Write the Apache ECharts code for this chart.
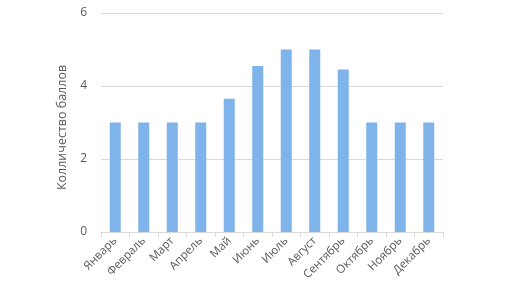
<!DOCTYPE html>
<html><head><meta charset="utf-8">
<script src="https://cdn.jsdelivr.net/npm/echarts@6/dist/echarts.min.js"></script>
<style>html,body{margin:0;padding:0;background:#fff}#c{width:526px;height:293px}</style>
</head><body><div id="c"></div>
<script>
const categories = ["Январь","Февраль","Март","Апрель","Май","Июнь","Июль","Август","Сентябрь","Октябрь","Ноябрь","Декабрь"];
const values = [3,3,3,3,3.65,4.55,5,5,4.45,3,3,3];
const yTicks = [0,2,4,6];
const yName = "Колличество баллов";

const chart = echarts.init(document.getElementById('c'), null, {renderer:'canvas'});
chart.setOption({
  animation:false,
  textStyle:{fontFamily:'Open Sans'},
  grid:{left:101,right:83,top:13,bottom:61,containLabel:false},
  xAxis:{type:'category',data:categories,
    axisLine:{lineStyle:{color:'#d9d9d9'}},
    axisTick:{show:true,length:5,lineStyle:{color:'#d9d9d9'}},
    axisLabel:{rotate:45,color:'#595959',fontSize:11.5,margin:7,interval:0,fontFamily:'Open Sans'}},
  yAxis:{type:'value',min:yTicks[0],max:yTicks[yTicks.length-1],interval:2,
    name:yName,nameLocation:'middle',nameGap:32,nameRotate:90,
    nameTextStyle:{color:'#595959',fontSize:12.5,fontFamily:'Open Sans',padding:[0,10,0,0]},
    axisLine:{show:false},axisTick:{show:false},
    axisLabel:{color:'#595959',fontSize:12,margin:14,fontFamily:'Open Sans'},
    splitLine:{lineStyle:{color:'#d9d9d9'}}},
  series:[{type:'bar',data:values,barWidth:11,itemStyle:{color:'#7eb4ea'}}]
});
</script></body></html>
